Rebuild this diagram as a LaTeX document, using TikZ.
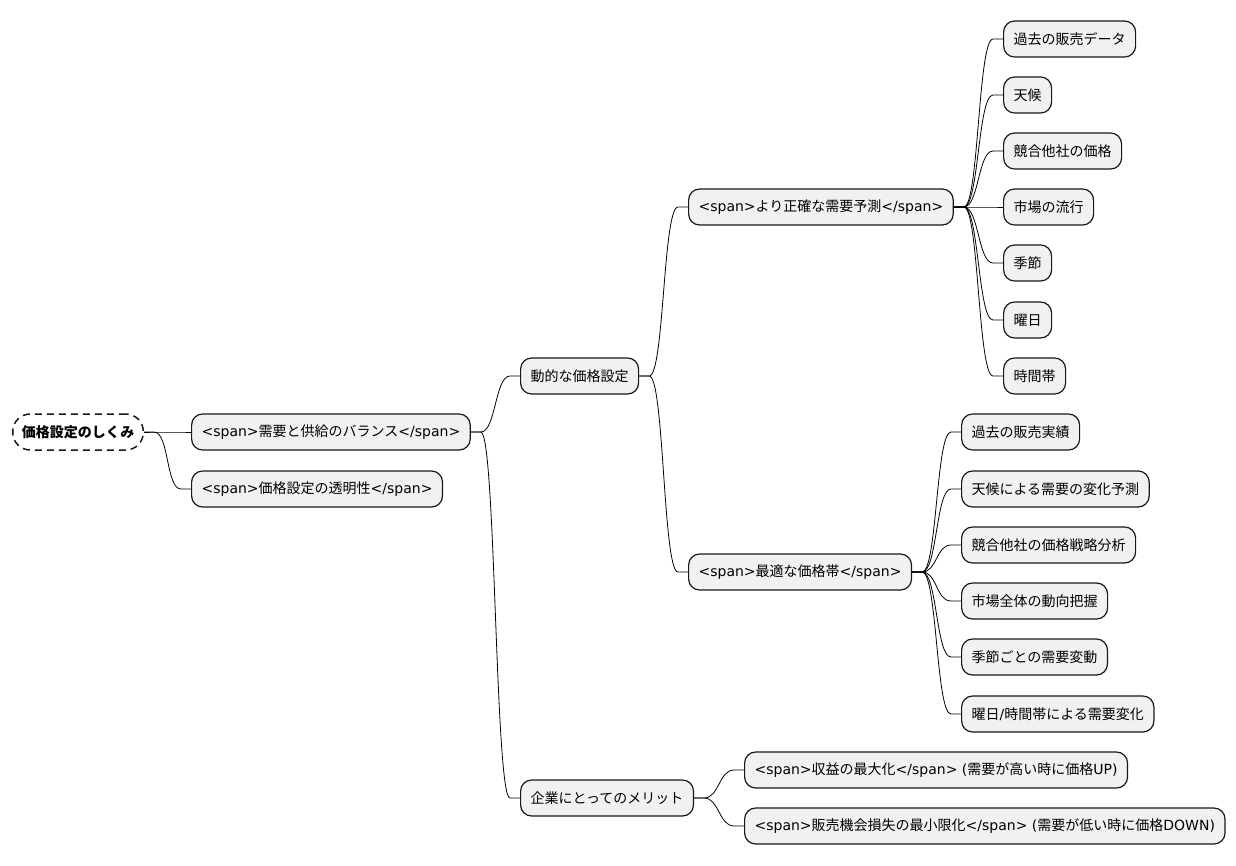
\documentclass[tikz,border=0pt]{standalone}
\usepackage{fontspec}
\setmainfont{Noto Sans CJK JP}
\newfontfamily\dv{DejaVu Sans}
\definecolor{boxgrey}{HTML}{F1F1F1}
\definecolor{ink}{HTML}{181818}
\newcommand{\spn}[1]{{\dv <span>}#1{\dv </span>}}
\tikzset{
  mmnode/.style={draw=ink, fill=boxgrey, line width=1.2pt, rounded corners=11pt,
    minimum height=36pt, inner xsep=10pt, inner ysep=0pt, anchor=west},
  mmroot/.style={mmnode, fill=white, line width=1.5pt, dash pattern=on 7pt off 5pt,
    rounded corners=17.5pt, inner xsep=9pt, font=\fontsize{14}{16}\selectfont\bfseries},
  branch/.style={draw=black, line width=0.8pt}
}
\begin{document}
\begin{tikzpicture}[x=1pt, y=1pt, font=\fontsize{14}{16}\selectfont]
  \useasboundingbox (0,0) rectangle (1236,-865);

  \node[mmroot] (shikumi) at (12,-432) {価格設定のしくみ};

  \node[mmnode] (bal) at (191,-432) {\spn{需要と供給のバランス}};
  \node[mmnode] (tomei) at (191,-489) {\spn{価格設定の透明性}};

  \node[mmnode] (dyn) at (520,-376) {動的な価格設定};
  \node[mmnode] (merit) at (520,-798) {企業にとってのメリット};

  \node[mmnode] (yosoku) at (688,-207) {\spn{より正確な需要予測}};
  \node[mmnode] (haba) at (688,-572) {\spn{最適な価格帯}};
  \node[mmnode] (shueki) at (744,-770) {\spn{収益の最大化}{\dv{} (}需要が高い時に価格{\dv UP)}};
  \node[mmnode] (sonshitsu) at (744,-826) {\spn{販売機会損失の最小限化}{\dv{} (}需要が低い時に価格{\dv DOWN)}};

  % leaves of yosoku
  \node[mmnode] (a1) at (1003,-39) {過去の販売データ};
  \node[mmnode] (a2) at (1003,-95) {天候};
  \node[mmnode] (a3) at (1003,-151) {競合他社の価格};
  \node[mmnode] (a4) at (1003,-207) {市場の流行};
  \node[mmnode] (a5) at (1003,-263) {季節};
  \node[mmnode] (a6) at (1003,-320) {曜日};
  \node[mmnode] (a7) at (1003,-376) {時間帯};

  % leaves of haba
  \node[mmnode] (b1) at (961,-432) {過去の販売実績};
  \node[mmnode] (b2) at (961,-489) {天候による需要の変化予測};
  \node[mmnode] (b3) at (961,-545) {競合他社の価格戦略分析};
  \node[mmnode] (b4) at (961,-601) {市場全体の動向把握};
  \node[mmnode] (b5) at (961,-657) {季節ごとの需要変動};
  \node[mmnode] (b6) at (961,-714) {曜日{\dv /}時間帯による需要変化};

  \foreach \p/\c in {shikumi/bal, shikumi/tomei, bal/dyn, bal/merit,
      dyn/yosoku, dyn/haba, merit/shueki, merit/sonshitsu,
      yosoku/a1, yosoku/a2, yosoku/a3, yosoku/a4, yosoku/a5, yosoku/a6, yosoku/a7,
      haba/b1, haba/b2, haba/b3, haba/b4, haba/b5, haba/b6}
    \draw[branch] (\p.east) -- ++(10,0) .. controls +(15,0) and ([xshift=-25pt]\c.west)
      .. ([xshift=-10pt]\c.west) -- (\c.west);
\end{tikzpicture}
\end{document}
